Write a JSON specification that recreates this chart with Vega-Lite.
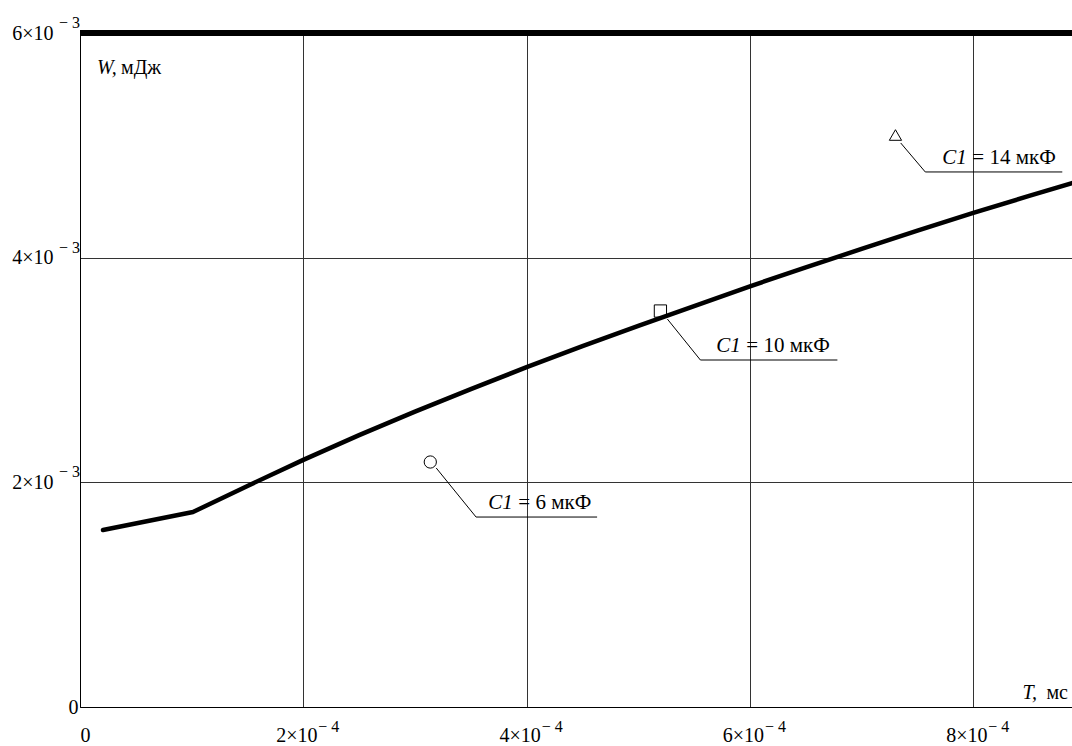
{
  "$schema": "https://vega.github.io/schema/vega-lite/v6.json",
  "width": 992,
  "height": 674,
  "autosize": {"type": "none"},
  "padding": {"left": 80, "top": 33, "right": 0, "bottom": 39},
  "background": "white",
  "config": {"view": {"stroke": null}, "font": "'Liberation Serif', 'Times New Roman', serif"},
  "datasets": {
    "curve": [
      {"T": 0.0000206, "W": 0.001576},
      {"T": 0.0001012, "W": 0.001736},
      {"T": 0.00015, "W": 0.001968},
      {"T": 0.0002, "W": 0.002200},
      {"T": 0.00025, "W": 0.002420},
      {"T": 0.0003, "W": 0.002630},
      {"T": 0.00035, "W": 0.002830},
      {"T": 0.0004, "W": 0.003025},
      {"T": 0.00045, "W": 0.003212},
      {"T": 0.0005, "W": 0.003392},
      {"T": 0.00055, "W": 0.003568},
      {"T": 0.0006, "W": 0.003745},
      {"T": 0.00065, "W": 0.003913},
      {"T": 0.0007, "W": 0.004078},
      {"T": 0.00075, "W": 0.004240},
      {"T": 0.0008, "W": 0.004398},
      {"T": 0.00085, "W": 0.004550},
      {"T": 0.0008884, "W": 0.004664}
    ],
    "top": [{"W": 0.006}],
    "xexp": [
      {"T": 0.0002, "e": "− 4"},
      {"T": 0.0004, "e": "− 4"},
      {"T": 0.0006, "e": "− 4"},
      {"T": 0.0008, "e": "− 4"}
    ],
    "yexp": [
      {"W": 0.002, "e": "− 3"},
      {"W": 0.004, "e": "− 3"},
      {"W": 0.006, "e": "− 3"}
    ],
    "markers": [
      {"T": 0.0003137, "W": 0.002181, "shape": "circle"},
      {"T": 0.0005198, "W": 0.003525, "shape": "square"},
      {"T": 0.0007303, "W": 0.005092, "shape": "triangle"}
    ],
    "leaders": [
      {"id": "a", "ord": 1, "T": 0.000319, "W": 0.002128},
      {"id": "a", "ord": 2, "T": 0.0003547, "W": 0.001691},
      {"id": "a", "ord": 3, "T": 0.0004631, "W": 0.001691},
      {"id": "b", "ord": 1, "T": 0.000526, "W": 0.003454},
      {"id": "b", "ord": 2, "T": 0.0005556, "W": 0.003089},
      {"id": "b", "ord": 3, "T": 0.0006783, "W": 0.003089},
      {"id": "c", "ord": 1, "T": 0.000735, "W": 0.005021},
      {"id": "c", "ord": 2, "T": 0.000757, "W": 0.004763},
      {"id": "c", "ord": 3, "T": 0.0008797, "W": 0.004763}
    ],
    "labels": [
      {"T": 0.0003657, "W": 0.001691, "rest": "= 6  мкФ"},
      {"T": 0.0005699, "W": 0.003089, "rest": "= 10  мкФ"},
      {"T": 0.0007723, "W": 0.004763, "rest": "= 14  мкФ"}
    ],
    "titles": [
      {"T": 0.0000152, "W": 0.00569, "it": "W,", "rest": "мДж"},
      {"T": 0.000844, "W": 0.000125, "it": "T,", "rest": "мс"}
    ]
  },
  "layer": [
    {
      "data": {"name": "curve"},
      "mark": {"type": "line", "color": "black", "strokeWidth": 4.5, "strokeCap": "round", "strokeJoin": "round"},
      "encoding": {
        "x": {
          "field": "T", "type": "quantitative",
          "scale": {"domain": [0, 0.0008884], "nice": false, "zero": false},
          "axis": {
            "title": null, "values": [0, 0.0002, 0.0004, 0.0006, 0.0008],
            "labelExpr": "datum.value == 0 ? '0' : round(datum.value*10000) + '×10'",
            "grid": true, "gridColor": "#333", "gridWidth": 1, "gridOpacity": 1,
            "ticks": false, "domainColor": "black", "domainWidth": 1,
            "labelFont": "'Liberation Serif', 'Times New Roman', serif", "labelFontSize": 20, "labelColor": "black",
            "labelBaseline": "alphabetic", "labelPadding": 34,
            "labelOffset": {"condition": {"test": "datum.value == 0", "value": 5}, "value": -7},
            "labelOverlap": false, "labelFlush": false
          }
        },
        "y": {
          "field": "W", "type": "quantitative",
          "scale": {"domain": [0, 0.006], "nice": false, "zero": false},
          "axis": {
            "title": null, "values": [0, 0.002, 0.004, 0.006],
            "labelExpr": "datum.value == 0 ? '0' : round(datum.value*1000) + '×10'",
            "grid": true, "gridColor": "#333", "gridWidth": 1, "gridOpacity": 1,
            "ticks": false, "domainColor": "black", "domainWidth": 1,
            "labelFont": "'Liberation Serif', 'Times New Roman', serif", "labelFontSize": 20, "labelColor": "black",
            "labelBaseline": "middle",
            "labelPadding": {"condition": {"test": "datum.value == 0", "value": 2}, "value": 27},
            "labelOverlap": false, "labelFlush": false
          }
        }
      }
    },
    {
      "data": {"name": "top"},
      "mark": {"type": "rule", "color": "black", "strokeWidth": 6},
      "encoding": {"y": {"field": "W", "type": "quantitative"}}
    },
    {
      "data": {"name": "xexp"},
      "mark": {"type": "text", "fontSize": 16, "align": "left", "baseline": "alphabetic", "dx": 15, "dy": 25, "color": "black", "clip": false},
      "encoding": {
        "x": {"field": "T", "type": "quantitative"},
        "y": {"datum": 0, "type": "quantitative"},
        "text": {"field": "e"}
      }
    },
    {
      "data": {"name": "yexp"},
      "mark": {"type": "text", "fontSize": 16, "align": "right", "baseline": "alphabetic", "dx": 0, "dy": -5, "color": "black"},
      "encoding": {
        "x": {"datum": 0, "type": "quantitative"},
        "y": {"field": "W", "type": "quantitative"},
        "text": {"field": "e"}
      }
    },
    {
      "data": {"name": "leaders"},
      "mark": {"type": "line", "color": "black", "strokeWidth": 1},
      "encoding": {
        "x": {"field": "T", "type": "quantitative"},
        "y": {"field": "W", "type": "quantitative"},
        "detail": {"field": "id"},
        "order": {"field": "ord"}
      }
    },
    {
      "data": {"name": "markers"},
      "mark": {"type": "point", "filled": false, "stroke": "black", "strokeWidth": 1, "opacity": 1},
      "encoding": {
        "x": {"field": "T", "type": "quantitative"},
        "y": {"field": "W", "type": "quantitative"},
        "shape": {"field": "shape", "type": "nominal", "scale": {"domain": ["circle", "square", "triangle"], "range": ["circle", "square", "triangle-up"]}, "legend": null},
        "size": {"value": 150}
      }
    },
    {
      "data": {"name": "labels"},
      "mark": {"type": "text", "text": "C1", "fontStyle": "italic", "fontSize": 21, "align": "left", "baseline": "alphabetic", "dy": -8, "color": "black"},
      "encoding": {
        "x": {"field": "T", "type": "quantitative"},
        "y": {"field": "W", "type": "quantitative"}
      }
    },
    {
      "data": {"name": "labels"},
      "mark": {"type": "text", "fontSize": 21, "align": "left", "baseline": "alphabetic", "dy": -8, "dx": 30, "color": "black"},
      "encoding": {
        "x": {"field": "T", "type": "quantitative"},
        "y": {"field": "W", "type": "quantitative"},
        "text": {"field": "rest"}
      }
    },
    {
      "data": {"name": "titles"},
      "mark": {"type": "text", "fontStyle": "italic", "fontSize": 20, "align": "left", "baseline": "middle", "color": "black"},
      "encoding": {
        "x": {"field": "T", "type": "quantitative"},
        "y": {"field": "W", "type": "quantitative"},
        "text": {"field": "it"}
      }
    },
    {
      "data": {"name": "titles"},
      "mark": {"type": "text", "fontSize": 20, "align": "left", "baseline": "middle", "dx": 24, "color": "black"},
      "encoding": {
        "x": {"field": "T", "type": "quantitative"},
        "y": {"field": "W", "type": "quantitative"},
        "text": {"field": "rest"}
      }
    }
  ]
}
